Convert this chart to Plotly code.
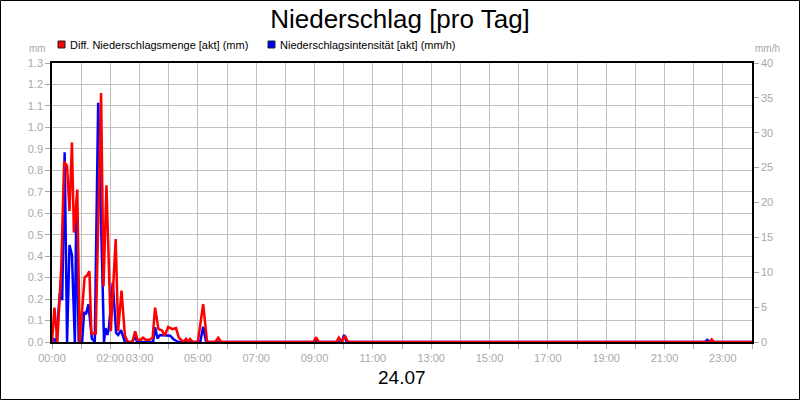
import plotly.graph_objects as go

# Zeit in Minuten seit Mitternacht (24.07)
menge_t = [0, 5, 11, 19, 25, 31, 36, 41, 45, 52, 57, 67, 72, 77, 81, 90, 101, 106, 112, 121,
           131, 136, 143, 150, 156, 165, 171, 176, 182, 187, 193, 200, 207, 212, 219, 226, 232,
           239, 248, 255, 261, 270, 276, 280, 284, 290, 300, 311, 319, 336, 342, 348, 538, 543,
           549, 585, 590, 596, 603, 609, 1352, 1357, 1362, 1440]
menge_mm = [0, 0.16, 0, 0.35, 0.84, 0.82, 0.61, 0.93, 0.51, 0.71, 0, 0.30, 0.31, 0.33, 0.04, 0.04,
            1.16, 0.26, 0.73, 0.05, 0.48, 0.05, 0.24, 0.03, 0, 0, 0.05, 0.01, 0.01, 0.02, 0.01,
            0.01, 0.02, 0.16, 0.06, 0.055, 0.03, 0.07, 0.06, 0.065, 0.02, 0, 0.015, 0, 0.014, 0,
            0, 0.177, 0, 0, 0.02, 0, 0, 0.022, 0, 0, 0.02, 0, 0.028, 0, 0, 0.012, 0, 0]

intens_t = [0, 4, 9, 16, 21, 26, 31, 36, 41, 47, 50, 55, 62, 66, 70, 75, 82, 88, 95, 105, 107,
            110, 114, 117, 125, 132, 136, 142, 150, 165, 171, 175, 208, 212, 217, 222, 233, 243,
            250, 260, 305, 311, 317, 538, 543, 548, 596, 601, 606, 1343, 1348, 1353, 1440]
intens_mmh = [0, 0.4, 0, 7.0, 6.0, 27.2, 0, 13.9, 12.5, 0, 19.0, 0, 0, 4.3, 4.0, 5.4, 0.5, 0,
              34.3, 7.7, 0, 2.0, 1.0, 2.0, 8.5, 1.3, 1.0, 1.7, 0, 0, 0.8, 0, 0, 2.1, 0.5, 1.0,
              0.9, 0.9, 0.4, 0, 0, 2.2, 0, 0, 0.2, 0, 0, 1.0, 0, 0, 0.3, 0, 0]

hour_ticks = list(range(0, 1441, 60))
hour_labels = ["00:00", "", "02:00", "03:00", "", "05:00", "", "07:00", "", "09:00", "", "11:00",
               "", "13:00", "", "15:00", "", "17:00", "", "19:00", "", "21:00", "", "23:00", ""]

# Plotbereich in Pixeln
L, R, T, B = 52, 752, 63, 342
W, H = R - L, B - T


def px(x):
    return (x - L) / W


def py(y):
    return (B - y) / H


grey = "#a8a8a8"
font = "Liberation Sans, Arial, sans-serif"

fig = go.Figure()

# Intensitaet (rechte Achse) als Basis, Menge darueber
fig.add_trace(go.Scatter(
    x=intens_t, y=intens_mmh, mode="lines", yaxis="y",
    line=dict(color="#0000ff", width=2.5), showlegend=False,
    name="Niederschlagsintensität [akt] (mm/h)"
))
fig.add_trace(go.Scatter(
    x=menge_t, y=menge_mm, mode="lines", yaxis="y2",
    line=dict(color="#ff0000", width=2.5), showlegend=False,
    name="Diff. Niederschlagsmenge [akt] (mm)"
))

axis_common = dict(
    ticks="outside", ticklen=5, tickcolor=grey, tickwidth=1,
    tickfont=dict(family=font, size=11, color=grey), tickangle=0,
    showline=True, linecolor="black", linewidth=1.5, automargin=False,
)

fig.update_layout(
    width=800, height=400, autosize=False,
    margin=dict(l=L, r=800 - R, t=T, b=400 - B),
    paper_bgcolor="white", plot_bgcolor="white",
    title=dict(text="Niederschlag [pro Tag]", x=0.5, xanchor="center",
               y=1 - 19 / 400, yanchor="middle", automargin=False,
               font=dict(family=font, size=26, color="black")),
    xaxis=dict(range=[0, 1440], tickvals=hour_ticks, ticktext=hour_labels,
               showgrid=True, gridcolor="#c0c0c0", gridwidth=1, mirror=True,
               zeroline=False, **axis_common),
    yaxis=dict(range=[0, 40], dtick=5, side="right", showgrid=False, zeroline=False,
               **axis_common),
    yaxis2=dict(range=[0, 1.3], dtick=0.1, tickformat=".1f", side="left", overlaying="y",
                showgrid=True, gridcolor="#c0c0c0", gridwidth=1, zeroline=False,
                **axis_common),
    showlegend=False,
)

# Rahmen um das ganze Bild
fig.add_shape(type="rect", xref="paper", yref="paper",
              x0=px(0.5), x1=px(799.5), y0=py(399.5), y1=py(0.5),
              line=dict(color="black", width=1), layer="above")

# Legende
legend_items = [("#ff0000", 58, "Diff. Niederschlagsmenge [akt] (mm)"),
                ("#0000ff", 268, "Niederschlagsintensität [akt] (mm/h)")]
for color, x0, label in legend_items:
    fig.add_shape(type="rect", xref="paper", yref="paper",
                  x0=px(x0), x1=px(x0 + 7), y0=py(48), y1=py(41),
                  fillcolor=color, line=dict(color="#202020", width=1))
    fig.add_annotation(text=label, xref="paper", yref="paper", x=px(x0 + 10), y=py(44.5),
                       xanchor="left", yanchor="middle", showarrow=False,
                       font=dict(family=font, size=11, color="black"))

# Einheiten und Datum
fig.add_annotation(text="mm", xref="paper", yref="paper", x=px(48), y=py(49),
                   xanchor="right", yanchor="middle", showarrow=False,
                   font=dict(family=font, size=10, color=grey))
fig.add_annotation(text="mm/h", xref="paper", yref="paper", x=px(753), y=py(49),
                   xanchor="left", yanchor="middle", showarrow=False,
                   font=dict(family=font, size=10, color=grey))
fig.add_annotation(text="24.07", xref="paper", yref="paper", x=0.5, y=py(378),
                   xanchor="center", yanchor="middle", showarrow=False,
                   font=dict(family=font, size=19, color="black"))

# Seitenrand des Browsers entfernen, damit die Grafik bei (0,0) beginnt
fig.write_html("out.html", config={"displayModeBar": False},
               post_script="document.body.style.margin = '0';")
